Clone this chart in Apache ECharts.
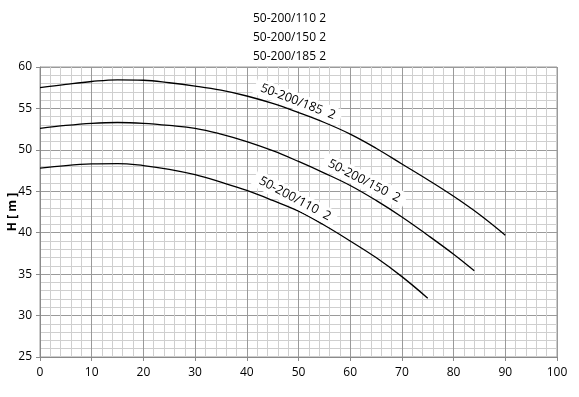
<!DOCTYPE html>
<html>
<head>
<meta charset="utf-8">
<script src="https://cdn.jsdelivr.net/npm/echarts@6/dist/echarts.min.js"></script>
<style>
  html, body { margin: 0; padding: 0; background: #fff; }
  #chart { width: 579px; height: 397px; }
</style>
</head>
<body>
<div id="chart"></div>
<script>
// pump curves, Q on x, H [m] on y
var names = ['50-200/110 2', '50-200/150 2', '50-200/185 2']

var q110 = [0, 5, 10, 15, 20, 25, 30, 35, 40, 45, 50, 55, 60, 65, 70, 75]
var h110 = [47.8, 48.1, 48.3, 48.35, 48.1, 47.65, 47.0, 46.1, 45.1, 43.9, 42.6, 40.9, 39.0, 37.0, 34.7, 32.1]

var q150 = [0, 5, 10, 15, 20, 25, 30, 35, 40, 45, 50, 55, 60, 65, 70, 75, 80, 84]
var h150 = [52.6, 52.95, 53.2, 53.3, 53.2, 52.95, 52.6, 51.9, 51.0, 49.9, 48.6, 47.2, 45.7, 43.9, 41.9, 39.7, 37.4, 35.4]

var q185 = [0, 5, 10, 15, 20, 25, 30, 35, 40, 45, 50, 55, 60, 65, 70, 75, 80, 85, 90]
var h185 = [57.5, 57.9, 58.25, 58.45, 58.4, 58.1, 57.7, 57.2, 56.5, 55.6, 54.5, 53.3, 51.9, 50.2, 48.3, 46.4, 44.4, 42.2, 39.7]

// where the curve names sit (data coords) and their angle
var labelPos = [[49.3, 44.1], [62.7, 46.25], [49.9, 55.8]]
var labelRot = [-28, -27, -21]

var xTicks = [0, 100, 10]
var yTicks = [25, 60, 5]

function pairs(xs, ys) {
  return xs.map(function (x, i) { return [x, ys[i]] })
}

var chart = echarts.init(document.getElementById('chart'))

var fnt = 'Open Sans'
var series = [[q110, h110], [q150, h150], [q185, h185]].map(function (d, i) {
  return {
    name: names[i],
    type: 'line',
    smooth: 0.4,
    showSymbol: false,
    data: pairs(d[0], d[1]),
    lineStyle: { color: '#000', width: 1.3 },
    markPoint: {
      symbol: 'rect',
      symbolSize: 0,
      data: [{ coord: labelPos[i] }],
      label: {
        show: true,
        formatter: names[i].replace(' ', '  '),
        rotate: labelRot[i],
        color: '#000',
        fontFamily: fnt,
        fontSize: 12.5,
        backgroundColor: '#fff',
        padding: [2, 6]
      }
    }
  }
})

option = {
  animation: false,
  title: {
    text: names.join('\n'),
    left: 'center',
    top: 4,
    textStyle: {
      fontFamily: fnt,
      fontSize: 12,
      fontWeight: 'normal',
      color: '#000',
      lineHeight: 19
    }
  },
  grid: {
    left: 40,
    right: 22,
    top: 67,
    bottom: 40,
    containLabel: false,
    outerBoundsMode: 'none',
    show: true,
    borderColor: '#9a9a9a',
    borderWidth: 1
  },
  xAxis: {
    type: 'value',
    min: xTicks[0],
    max: xTicks[1],
    interval: xTicks[2],
    axisLine: { lineStyle: { color: '#8a8a8a' } },
    axisTick: { length: 4, lineStyle: { color: '#8a8a8a' } },
    axisLabel: { color: '#000', fontFamily: fnt, fontSize: 12, margin: 10 },
    splitLine: { lineStyle: { color: '#9a9a9a' } },
    minorTick: { show: false, splitNumber: 5 },
    minorSplitLine: { show: true, lineStyle: { color: '#cfcfcf' } }
  },
  yAxis: {
    type: 'value',
    min: yTicks[0],
    max: yTicks[1],
    interval: yTicks[2],
    name: 'H [ m ]',
    nameLocation: 'middle',
    nameGap: 21,
    nameMoveOverlap: false,
    nameTextStyle: { color: '#000', fontFamily: fnt, fontSize: 12, fontWeight: 'bold' },
    axisLine: { show: true, lineStyle: { color: '#8a8a8a' } },
    axisTick: { show: true, length: 4, lineStyle: { color: '#8a8a8a' } },
    axisLabel: { color: '#000', fontFamily: fnt, fontSize: 12, margin: 8 },
    splitLine: { lineStyle: { color: '#9a9a9a' } },
    minorTick: { show: false, splitNumber: 5 },
    minorSplitLine: { show: true, lineStyle: { color: '#cfcfcf' } }
  },
  series: series
}
chart.setOption(option)
</script>
</body>
</html>
